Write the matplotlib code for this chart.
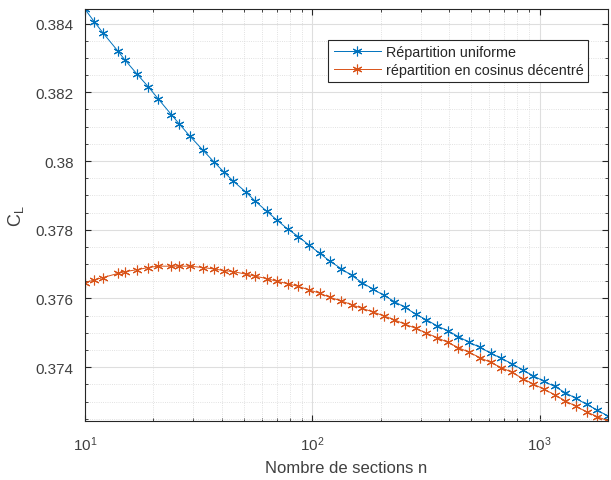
import matplotlib
matplotlib.use("Agg")
import matplotlib.pyplot as plt
from matplotlib.ticker import MultipleLocator

plt.rcParams.update({"font.family": ["Liberation Sans", "DejaVu Sans"],
                     "mathtext.fontset": "custom",
                     "mathtext.rm": "Liberation Sans",
                     "mathtext.it": "Liberation Sans",
                     "font.size": 10})

# nombre de sections
n = [10, 11, 12, 14, 15, 17, 19, 21, 24, 26, 29, 33, 37, 41, 45, 51, 56, 63, 70, 78,
     87, 97, 108, 120, 134, 149, 166, 185, 207, 230, 256, 286, 318, 355, 395, 440, 491,
     547, 609, 679, 756, 843, 939, 1046, 1165, 1299, 1447, 1612, 1796, 2000]

# CL, repartition uniforme
cl_unif = [0.38442, 0.38405, 0.38373, 0.38319, 0.38294, 0.38252, 0.38216, 0.38181,
           0.38135, 0.38108, 0.38072, 0.38032, 0.37997, 0.37967, 0.37941, 0.37910,
           0.37884, 0.37854, 0.37828, 0.37802, 0.37780, 0.37755, 0.37731, 0.37708,
           0.37687, 0.37667, 0.37646, 0.37627, 0.37609, 0.37591, 0.37574, 0.37554,
           0.37538, 0.37520, 0.37506, 0.37489, 0.37472, 0.37458, 0.37441, 0.37426,
           0.37410, 0.37392, 0.37375, 0.37359, 0.37344, 0.37326, 0.37309, 0.37292,
           0.37275, 0.37258]

# CL, repartition en cosinus decentre
cl_cos = [0.37646, 0.37654, 0.37661, 0.37673, 0.37678, 0.37684, 0.37690, 0.37694,
          0.37694, 0.37694, 0.37694, 0.37690, 0.37686, 0.37681, 0.37678, 0.37671,
          0.37665, 0.37658, 0.37650, 0.37643, 0.37635, 0.37625, 0.37615, 0.37603,
          0.37593, 0.37582, 0.37571, 0.37561, 0.37549, 0.37538, 0.37525, 0.37513,
          0.37499, 0.37486, 0.37472, 0.37457, 0.37443, 0.37428, 0.37414, 0.37399,
          0.37385, 0.37367, 0.37351, 0.37336, 0.37320, 0.37302, 0.37286, 0.37270,
          0.37256, 0.37244]

blue, orange = "#0072BD", "#D95319"
txt = "#404040"
ast = (6, 2, 0)

fig = plt.figure(figsize=(6.11, 4.81), dpi=100)
ax = fig.add_axes([0.139, 0.123, 0.856, 0.856])
ax.plot(n, cl_unif, color=blue, lw=0.7, marker=ast, ms=7, mew=0.8,
        label="Répartition uniforme")
ax.plot(n, cl_cos, color=orange, lw=0.7, marker=ast, ms=7, mew=0.8,
        label="répartition en cosinus décentré")
ax.set_xscale("log")
ax.set_xlim(10, 2000)
ax.set_ylim(min(cl_cos), max(cl_unif))
ax.yaxis.set_major_locator(MultipleLocator(0.002))
ax.yaxis.set_minor_locator(MultipleLocator(0.0005))
ax.yaxis.set_major_formatter(matplotlib.ticker.FuncFormatter(lambda v, p: f"{v:g}"))

ax.grid(True, which="major", color="#dedede", lw=0.8, ls="-")
ax.grid(True, which="minor", color="#d8d8d8", lw=0.6, ls=":")
ax.set_axisbelow(True)
ax.tick_params(which="both", direction="in", top=True, right=True, colors="#262626",
               labelcolor=txt, labelsize=11)
ax.tick_params(which="major", length=4)
ax.tick_params(which="minor", length=2)
ax.tick_params(axis="y", which="major", pad=8)
ax.tick_params(axis="x", which="major", pad=10)
for s in ax.spines.values():
    s.set_color("#262626"); s.set_linewidth(0.8)

ax.set_xlabel("Nombre de sections n", fontsize=12, color=txt, labelpad=5)
ax.set_ylabel(r"C$_\mathrm{L}$", fontsize=13, color=txt, labelpad=7)

leg = ax.legend(loc="upper right", bbox_to_anchor=(0.968, 0.932), fontsize=10.4,
                fancybox=False, framealpha=1, edgecolor="#262626",
                borderpad=0.35, labelspacing=0.3, handlelength=3.3, handletextpad=0.3,
                borderaxespad=0.2)
leg.get_frame().set_linewidth(0.8)
for t in leg.get_texts():
    t.set_color("#262626")

fig.savefig("out.png", dpi=100)
